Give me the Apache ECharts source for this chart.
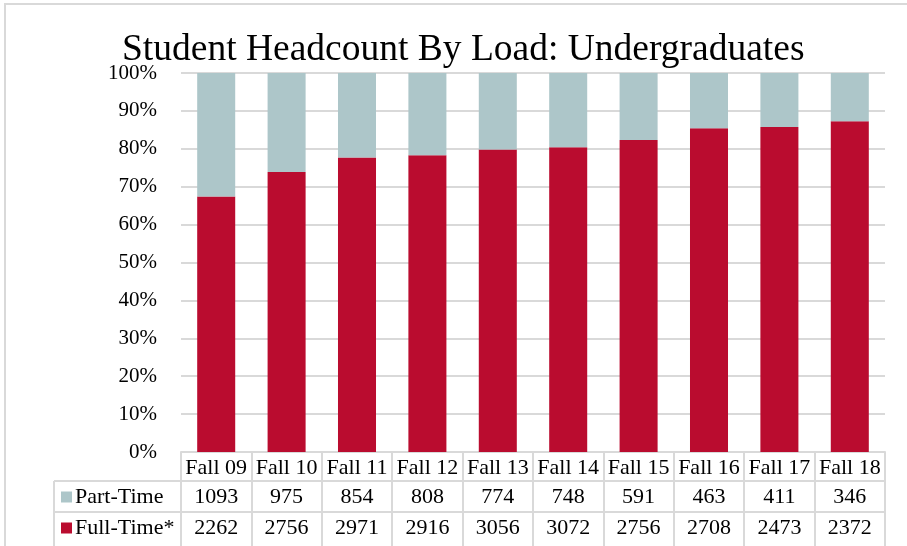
<!DOCTYPE html>
<html>
<head>
<meta charset="utf-8">
<script src="https://cdn.jsdelivr.net/npm/echarts@6/dist/echarts.min.js"></script>
<style>
  html, body { margin: 0; padding: 0; background: #fff; }
  #chart { width: 907px; height: 546px; }
</style>
</head>
<body>
<div id="chart"></div>
<script>
// data
var categories = ['Fall 09', 'Fall 10', 'Fall 11', 'Fall 12', 'Fall 13', 'Fall 14', 'Fall 15', 'Fall 16', 'Fall 17', 'Fall 18'];
var partTime = [1093, 975, 854, 808, 774, 748, 591, 463, 411, 346];
var fullTime = [2262, 2756, 2971, 2916, 3056, 3072, 2756, 2708, 2473, 2372];
var yTicks = [0, 10, 20, 30, 40, 50, 60, 70, 80, 90, 100];

var FONT = "'Liberation Serif', 'Times New Roman', serif";
var LINE = '#d9d9d9';
var RED = '#ba0c2f';
var BLUE = '#adc6c9';

// layout
var gridLeft = 181, gridRight = 22, gridTop = 73, gridBottom = 94;
var axisY = 546 - gridBottom;    // 452
var rowH = [29, 31];             // header row, part-time row
var tableLeft = 54;

// percent shares
var total = partTime.map(function (v, i) { return v + fullTime[i]; });
var ftPct = fullTime.map(function (v, i) { return v / total[i] * 100; });
var ptPct = partTime.map(function (v, i) { return v / total[i] * 100; });

var myChart = echarts.init(document.getElementById('chart'));

var rowAxis = function (values, offset) {
    return {
        type: 'category',
        position: 'bottom',
        offset: offset,
        data: categories,
        axisLine: { show: true, lineStyle: { color: LINE, width: 2 } },
        axisTick: { show: false },
        axisLabel: {
            interval: 0, margin: 5, lineHeight: 22,
            fontFamily: FONT, fontSize: 22, color: '#000',
            formatter: function (v, i) { return String(values[i]); }
        }
    };
};

var option = {
    animation: false,
    title: {
        text: 'Student Headcount By Load: Undergraduates',
        left: 117,
        top: 26,
        textStyle: { fontFamily: FONT, fontSize: 37.5, fontWeight: 'normal', color: '#000' }
    },
    legend: {
        data: ['Part-Time', 'Full-Time*'],
        orient: 'vertical',
        left: 61,
        top: axisY + rowH[0] + 5,
        padding: 0,
        itemGap: 9,
        itemWidth: 11,
        itemHeight: 11,
        icon: 'rect',
        textStyle: { fontFamily: FONT, fontSize: 22, lineHeight: 22, color: '#000', padding: [0, 0, 0, -2] }
    },
    grid: { left: gridLeft, right: gridRight, top: gridTop, bottom: gridBottom },
    xAxis: [
        {
            type: 'category',
            position: 'bottom',
            data: categories,
            axisLine: { show: true, lineStyle: { color: LINE, width: 2 } },
            axisTick: { show: true, interval: 0, length: 100, lineStyle: { color: LINE, width: 2 } },
            axisLabel: { interval: 0, margin: 5, lineHeight: 22, fontFamily: FONT, fontSize: 22, color: '#000' }
        },
        rowAxis(partTime, rowH[0]),
        rowAxis(fullTime, rowH[0] + rowH[1])
    ],
    yAxis: {
        type: 'value',
        min: yTicks[0],
        max: yTicks[yTicks.length - 1],
        interval: 10,
        axisLine: { show: false },
        axisTick: { show: false },
        splitLine: { lineStyle: { color: LINE, width: 2 } },
        axisLabel: { margin: 24, fontFamily: FONT, fontSize: 21, color: '#000', formatter: '{value}%' }
    },
    series: [
        {
            name: 'Full-Time*', type: 'bar', stack: 'load', barWidth: '54%',
            itemStyle: { color: RED }, data: ftPct
        },
        {
            name: 'Part-Time', type: 'bar', stack: 'load',
            itemStyle: { color: BLUE }, data: ptPct
        }
    ],
    graphic: [
        // outer frame
        { type: 'rect', shape: { x: 5, y: 4, width: 1000, height: 1000 }, style: { fill: null, stroke: LINE, lineWidth: 2 } },
        // left column of the table
        { type: 'line', shape: { x1: tableLeft, y1: axisY + rowH[0], x2: gridLeft, y2: axisY + rowH[0] }, style: { stroke: LINE, lineWidth: 2 } },
        { type: 'line', shape: { x1: tableLeft, y1: axisY + rowH[0] + rowH[1], x2: gridLeft, y2: axisY + rowH[0] + rowH[1] }, style: { stroke: LINE, lineWidth: 2 } },
        { type: 'line', shape: { x1: tableLeft, y1: axisY + rowH[0], x2: tableLeft, y2: 560 }, style: { stroke: LINE, lineWidth: 2 } }
    ]
};

myChart.setOption(option);
</script>
</body>
</html>
